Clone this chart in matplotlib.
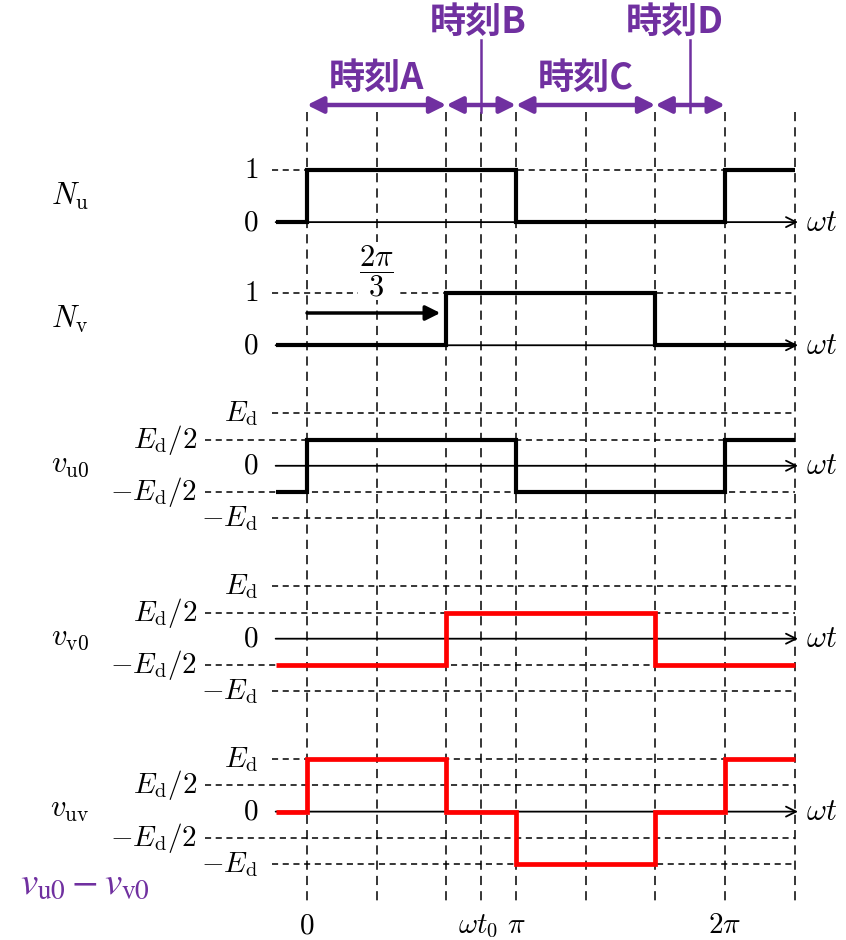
import numpy as np
import matplotlib.pyplot as plt

plt.rcParams['mathtext.fontset'] = 'cm'
plt.rcParams['font.family'] = ['Noto Sans CJK JP', 'DejaVu Sans']

PI = np.pi
PURPLE = '#7030A0'
RED = '#FF0000'

# 横軸 (rad)
t_start = -0.15 * PI
t_end = 7 * PI / 3
grid_x = [k * PI / 3 for k in range(8)]
wt0 = 5 * PI / 6

# スイッチング角とレベル
nu_edges = [0, PI, 2 * PI]
nu_levels = [0, 1, 0, 1]
nv_edges = [2 * PI / 3, 5 * PI / 3]
nv_levels = [0, 1, 0]
vu0_edges = [0, PI, 2 * PI]
vu0_levels = [-0.5, 0.5, -0.5, 0.5]
vv0_edges = [2 * PI / 3, 5 * PI / 3]
vv0_levels = [-0.5, 0.5, -0.5]
vuv_edges = [0, 2 * PI / 3, PI, 5 * PI / 3, 2 * PI]
vuv_levels = [0, 1, 0, -1, 0, 1]

# 時刻の区間
period_names = ['時刻A', '時刻B', '時刻C', '時刻D']
period_edges = [0, 2 * PI / 3, PI, 5 * PI / 3, 2 * PI]
marker_x = [5 * PI / 6, 11 * PI / 6]

bottom_ticks = [0, wt0, PI, 2 * PI]
bottom_labels = ['$0$', r'$\omega t_0$', r'$\pi$', r'$2\pi$']

row_names = [r'$N_{\mathrm{u}}$', r'$N_{\mathrm{v}}$', r'$v_{\mathrm{u0}}$',
             r'$v_{\mathrm{v0}}$', r'$v_{\mathrm{uv}}$']
row_edges = [nu_edges, nv_edges, vu0_edges, vv0_edges, vuv_edges]
row_levels = [nu_levels, nv_levels, vu0_levels, vv0_levels, vuv_levels]
row_colors = ['black', 'black', 'black', RED, RED]

n_ticks = [1, 0]
n_tick_labels = ['$1$', '$0$']
v_ticks = [1, 0.5, 0, -0.5, -1]
v_tick_labels = [r'$E_{\mathrm{d}}$', r'$E_{\mathrm{d}}/2$', '$0$',
                 r'$-E_{\mathrm{d}}/2$', r'$-E_{\mathrm{d}}$']

# レイアウト (1単位 = E_d/2)
PX = 66.53            # px / rad
PY = 26.2             # px / unit
W, H = 846, 940
row_base = [27.4, 22.7, 18.1, 11.5, 4.9]
SCALE = 2.0


def px2x(p):
    return (p - 307) / PX


def px2y(p):
    return (H - p) / PY


fig = plt.figure(figsize=(W / 100, H / 100), dpi=100)
ax = fig.add_axes([0, 0, 1, 1])
ax.set_xlim(px2x(0), px2x(W))
ax.set_ylim(0, H / PY)
ax.axis('off')

# 縦の破線
for gx in grid_x + [wt0]:
    ax.plot([gx, gx], [px2y(112), px2y(903)], color='black', lw=1.1,
            ls=(0, (6, 4)), zorder=1)

x_short = px2x(272)
x_long = px2x(205)
x_end = px2x(795)

for i in range(5):
    base = row_base[i]
    if i < 2:
        ticks, labels = n_ticks, n_tick_labels
    else:
        ticks, labels = v_ticks, v_tick_labels
    for lv, lab in zip(ticks, labels):
        y = base + SCALE * lv
        if lv != 0:
            xs = x_long if abs(lv) == 0.5 else x_short
            ax.plot([xs, x_end], [y, y], color='black', lw=1.1,
                    ls=(0, (4, 3)), zorder=1)
            xr = px2x(197) if abs(lv) == 0.5 else px2x(258)
        else:
            xr = px2x(258)
        ax.text(xr, y, lab, ha='right', va='center', fontsize=21)
    # ωt 軸
    ax.annotate('', xy=(px2x(798), base), xytext=(t_start, base),
                arrowprops=dict(arrowstyle='->', lw=1.3, color='black',
                                mutation_scale=18, shrinkA=0, shrinkB=0),
                zorder=2)
    ax.text(px2x(806), base, r'$\omega t$', ha='left', va='center',
            fontsize=22)
    # 波形
    xs = [t_start] + row_edges[i] + [t_end]
    ys = base + SCALE * np.array(row_levels[i])
    lw = 3.4 if row_colors[i] == RED else 3.0
    ax.stairs(ys, xs, baseline=None, color=row_colors[i], lw=lw, zorder=3)
    # 左側の名前
    ly = base + 1.0 if i < 2 else base + 0.1
    ax.text(px2x(70), ly, row_names[i], ha='center', va='center',
            fontsize=22)

# 2π/3 の矢印
ax.annotate('', xy=(2 * PI / 3 - 0.09, px2y(313)), xytext=(0, px2y(313)),
            arrowprops=dict(arrowstyle='-|>', lw=2.5, color='black',
                            mutation_scale=22, shrinkA=0, shrinkB=0),
            zorder=4)
ax.text(PI / 3, px2y(271), r'$\dfrac{2\pi}{3}$', ha='center', va='center',
        fontsize=22, zorder=4,
        bbox=dict(facecolor='white', edgecolor='none', pad=1))

# 時刻の区間矢印
for k, name in enumerate(period_names):
    a, b = period_edges[k], period_edges[k + 1]
    ax.annotate('', xy=(b, px2y(105)), xytext=(a, px2y(105)),
                arrowprops=dict(arrowstyle='<|-|>', lw=3.2, color=PURPLE,
                                mutation_scale=24, shrinkA=0, shrinkB=0),
                zorder=4)
for mx in marker_x:
    ax.plot([mx, mx], [px2y(40), px2y(112)], color=PURPLE, lw=1.8, zorder=4)

label_kw = dict(ha='center', va='center', fontsize=26, color=PURPLE,
                fontweight='bold')
ax.text((period_edges[0] + period_edges[1]) / 2, px2y(78), period_names[0],
        **label_kw)
ax.text(marker_x[0] - 0.05, px2y(22), period_names[1], **label_kw)
ax.text((period_edges[2] + period_edges[3]) / 2, px2y(78), period_names[2],
        **label_kw)
ax.text(marker_x[1] - 0.23, px2y(22), period_names[3], **label_kw)

# 下の目盛ラベル
for bx, bl in zip(bottom_ticks, bottom_labels):
    off = -0.05 if bl.startswith(r'$\omega') else 0
    ax.text(bx + off, px2y(925), bl, ha='center', va='center', fontsize=21)

ax.text(px2x(20), px2y(883), r'$v_{\mathrm{u0}} - v_{\mathrm{v0}}$',
        ha='left', va='center', fontsize=28, color=PURPLE,
        math_fontfamily='stix')

fig.savefig('out.png', dpi=100)
